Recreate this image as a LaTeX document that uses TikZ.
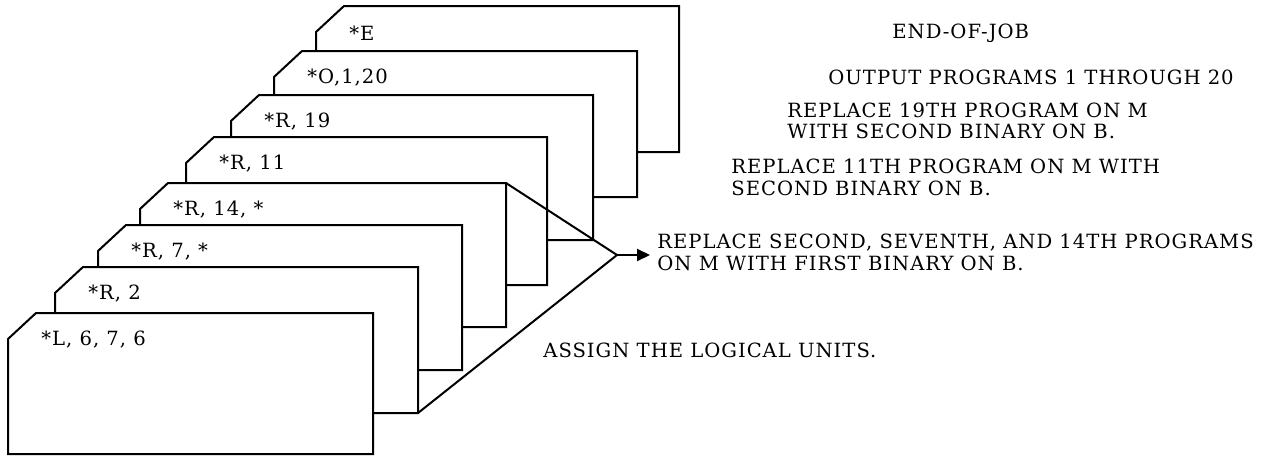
\documentclass[tikz,border=0pt]{standalone}
\usepackage{fontspec}
\usetikzlibrary{arrows.meta}
\newfontfamily\pressfont{DejaVu Serif}[LetterSpace=5]
\newcommand\notefont{\pressfont\fontsize{9.8}{10.8}\selectfont}
\tikzset{
  card/.style={draw=black, fill=white, line width=1pt, line join=miter},
  cardlabel/.style={anchor=west, inner sep=0pt, font=\notefont},
  note/.style={anchor=west, inner sep=0pt, align=left, font=\notefont},
  wire/.style={line width=1pt},
}
\begin{document}
\begin{tikzpicture}[x=0.5pt,y=-0.5pt]
\useasboundingbox (0,0) rectangle (1270,456);
\foreach \ci/\xl/\yt/\xr/\yb/\lab in {
 8/316/6/679/152/{*E},
 7/274/51/637/197/{*O,1,20},
 6/231/95/593/240/{*R, 19},
 5/186/137/547/285/{*R, 11},
 4/140/183/506/327/{*R, 14, *},
 3/98/225/462/370/{*R, 7, *},
 2/55/267/418/413/{*R, 2},
 1/8/313/373/454/{*L, 6, 7, 6}}{
  \draw[card] (\xl,\yt+26) -- (\xl+28,\yt) -- (\xr,\yt) -- (\xr,\yb) -- (\xl,\yb) -- cycle;
  \coordinate (c\ci-tr) at (\xr,\yt);
  \coordinate (c\ci-br) at (\xr,\yb);
  \node[cardlabel] (lab\ci) at (\xl+33,\yt+27) {\lab};
}
\node[note] (eoj) at (892,33) {END-OF-JOB};
\node[note] (out) at (828,77) {OUTPUT PROGRAMS 1 THROUGH 20};
\node[note] (r19) at (787,121) {REPLACE 19TH PROGRAM ON M\\WITH SECOND BINARY ON B.};
\node[note] (r11) at (731,177.5) {REPLACE 11TH PROGRAM ON M WITH\\SECOND BINARY ON B.};
\node[note] (rep) at (657,252.5) {REPLACE SECOND, SEVENTH, AND 14TH PROGRAMS\\ON M WITH FIRST BINARY ON B.};
\node[note] (asg) at (543,350) {ASSIGN THE LOGICAL UNITS.};
\coordinate (apex) at (617,255);
\coordinate (tip) at (apex -| rep.west);
\draw[wire] (c4-tr) -- (apex) -- (c2-br);
\draw[wire,-{Triangle[length=6.5pt,width=6pt]}] (apex) -- ([xshift=-3.5pt]tip);
\end{tikzpicture}
\end{document}
